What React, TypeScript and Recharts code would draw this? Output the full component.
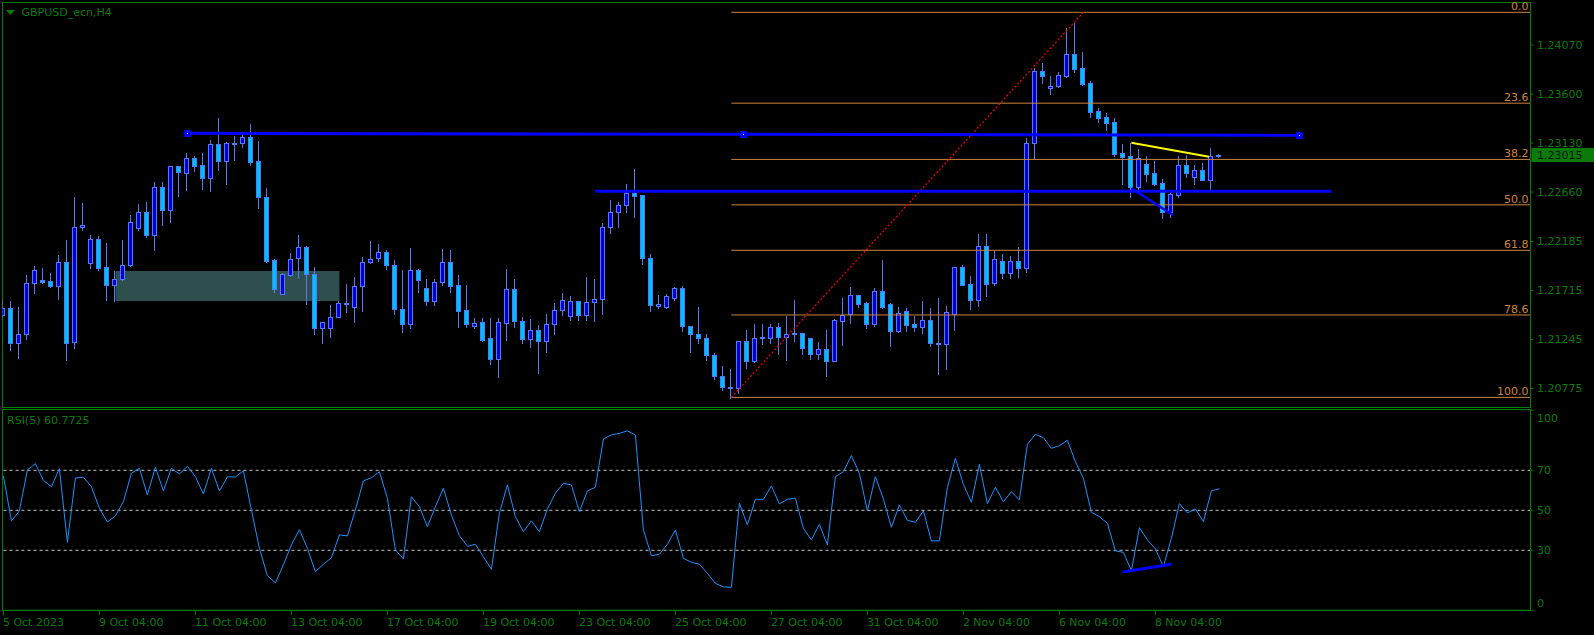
/*
 * GBPUSD H4 candlestick chart with fibonacci levels, trend lines and RSI(5) sub-window
 */

import {
  ComposedChart,
  Bar,
  Line,
  XAxis,
  YAxis,
  ReferenceLine,
  ReferenceArea,
  ReferenceDot
} from 'recharts';

const opens = [
  1.21481, 1.21552, 1.21212, 1.21302, 1.21788, 1.21814, 1.21804, 1.21760, 1.21984, 1.21222,
  1.22326, 1.21980, 1.22214, 1.21936, 1.21769, 1.21830, 1.21964, 1.22316, 1.22464, 1.22249,
  1.22704, 1.22489, 1.22905, 1.22838, 1.22982, 1.22915, 1.22796, 1.23116, 1.22960, 1.23126,
  1.23126, 1.23187, 1.22953, 1.22617, 1.22006, 1.21686, 1.21862, 1.22031, 1.22128, 1.21878,
  1.21360, 1.21360, 1.21465, 1.21591, 1.21560, 1.21760, 1.21993, 1.22031, 1.22089, 1.21964,
  1.21542, 1.21395, 1.21910, 1.21744, 1.21616, 1.21798, 1.21984, 1.21766, 1.21526, 1.21376,
  1.21411, 1.21257, 1.21059, 1.21404, 1.21734, 1.21427, 1.21251, 1.21340, 1.21232, 1.21398,
  1.21532, 1.21472, 1.21619, 1.21481, 1.21606, 1.21635, 1.22326, 1.22470, 1.22540, 1.22646,
  1.22627, 1.22031, 1.21568, 1.21560, 1.21644, 1.21744, 1.21379, 1.21302, 1.21264, 1.21100,
  1.20899, 1.20790, 1.20784, 1.21235, 1.21040, 1.21264, 1.21260, 1.21369, 1.21270, 1.21302,
  1.21312, 1.21264, 1.21104, 1.21158, 1.21040, 1.21424, 1.21488, 1.21676, 1.21593, 1.21395,
  1.21715, 1.21584, 1.21328, 1.21523, 1.21392, 1.21366, 1.21436, 1.21216, 1.21206, 1.21494,
  1.21936, 1.21776, 1.21628, 1.22144, 1.21788, 1.22003, 1.21884, 1.22003, 1.21932, 1.23126,
  1.23820, 1.23654, 1.23680, 1.23772, 1.23984, 1.23849, 1.23705, 1.23436, 1.23382, 1.23331,
  1.23036, 1.23004, 1.22710, 1.22924, 1.22838, 1.22742, 1.22470, 1.22633, 1.22918, 1.22806,
  1.22876, 1.22771, 1.23001
];

const highs = [
  1.21632, 1.21612, 1.21555, 1.21868, 1.21955, 1.21929, 1.21888, 1.22060, 1.22198, 1.22611,
  1.22553, 1.22246, 1.22236, 1.22169, 1.21900, 1.22198, 1.22438, 1.22544, 1.22563, 1.22755,
  1.22755, 1.22912, 1.22912, 1.23030, 1.23004, 1.23030, 1.23155, 1.23369, 1.23136, 1.23196,
  1.23222, 1.23312, 1.23148, 1.22697, 1.22016, 1.21888, 1.22073, 1.22246, 1.22140, 1.21939,
  1.21417, 1.21574, 1.21612, 1.21776, 1.21843, 1.22041, 1.22188, 1.22160, 1.22102, 1.22006,
  1.21910, 1.22121, 1.21926, 1.21830, 1.21830, 1.22112, 1.22102, 1.21862, 1.21766, 1.21456,
  1.21452, 1.21452, 1.21452, 1.21920, 1.21824, 1.21459, 1.21440, 1.21382, 1.21488, 1.21600,
  1.21696, 1.21660, 1.21619, 1.21843, 1.21824, 1.22361, 1.22582, 1.22566, 1.22736, 1.22880,
  1.22627, 1.22064, 1.21670, 1.21686, 1.21750, 1.21756, 1.21379, 1.21555, 1.21296, 1.21116,
  1.20988, 1.20960, 1.21235, 1.21334, 1.21392, 1.21392, 1.21392, 1.21408, 1.21468, 1.21622,
  1.21312, 1.21264, 1.21219, 1.21334, 1.21446, 1.21648, 1.21747, 1.21676, 1.21606, 1.21737,
  1.22006, 1.21593, 1.21555, 1.21545, 1.21475, 1.21612, 1.21545, 1.21641, 1.21564, 1.21936,
  1.21958, 1.21852, 1.22256, 1.22256, 1.22096, 1.22064, 1.22044, 1.22131, 1.23177, 1.23846,
  1.23897, 1.23772, 1.23811, 1.24233, 1.24284, 1.24006, 1.23724, 1.23468, 1.23414, 1.23366,
  1.23120, 1.23132, 1.23072, 1.23004, 1.22956, 1.22784, 1.22684, 1.23004, 1.23014, 1.22918,
  1.22937, 1.23081, 1.23020
];

const lows = [
  1.21462, 1.21142, 1.21068, 1.21248, 1.21692, 1.21792, 1.21750, 1.21635, 1.21052, 1.21164,
  1.22294, 1.21932, 1.21916, 1.21625, 1.21612, 1.21820, 1.21955, 1.22294, 1.22230, 1.22108,
  1.22345, 1.22374, 1.22624, 1.22681, 1.22864, 1.22691, 1.22672, 1.22873, 1.22739, 1.22969,
  1.23094, 1.22921, 1.22508, 1.21984, 1.21702, 1.21686, 1.21852, 1.21840, 1.21587, 1.21302,
  1.21216, 1.21270, 1.21465, 1.21510, 1.21414, 1.21520, 1.21980, 1.22000, 1.21923, 1.21491,
  1.21318, 1.21356, 1.21702, 1.21574, 1.21574, 1.21766, 1.21702, 1.21366, 1.21366, 1.21356,
  1.21232, 1.21008, 1.20886, 1.21238, 1.21366, 1.21212, 1.21174, 1.20924, 1.21126, 1.21296,
  1.21478, 1.21430, 1.21430, 1.21436, 1.21420, 1.21488, 1.22268, 1.22326, 1.22467, 1.22422,
  1.21971, 1.21520, 1.21548, 1.21548, 1.21625, 1.21328, 1.21126, 1.21212, 1.21046, 1.20864,
  1.20758, 1.20688, 1.20732, 1.20972, 1.21030, 1.21206, 1.21212, 1.21110, 1.21052, 1.21232,
  1.21104, 1.21062, 1.21062, 1.20896, 1.21040, 1.21190, 1.21404, 1.21558, 1.21356, 1.21376,
  1.21548, 1.21184, 1.21318, 1.21328, 1.21328, 1.21308, 1.21184, 1.20918, 1.20963, 1.21334,
  1.21766, 1.21539, 1.21568, 1.21664, 1.21766, 1.21836, 1.21836, 1.21846, 1.21894, 1.22972,
  1.23708, 1.23600, 1.23670, 1.23760, 1.23814, 1.23686, 1.23376, 1.23334, 1.23254, 1.23004,
  1.22739, 1.22614, 1.22678, 1.22768, 1.22723, 1.22412, 1.22422, 1.22614, 1.22806, 1.22739,
  1.22771, 1.22691, 1.22995
];

const closes = [
  1.21552, 1.21212, 1.21302, 1.21792, 1.21916, 1.21798, 1.21760, 1.21984, 1.21212, 1.22329,
  1.22348, 1.22214, 1.21932, 1.21769, 1.21830, 1.21964, 1.22368, 1.22464, 1.22249, 1.22704,
  1.22489, 1.22905, 1.22848, 1.22982, 1.22912, 1.22796, 1.23116, 1.22960, 1.23126, 1.23123,
  1.23187, 1.22950, 1.22614, 1.22003, 1.21731, 1.21872, 1.22022, 1.22128, 1.21878, 1.21360,
  1.21417, 1.21465, 1.21600, 1.21590, 1.21756, 1.21993, 1.22022, 1.22089, 1.21964, 1.21536,
  1.21395, 1.21910, 1.21820, 1.21616, 1.21801, 1.21993, 1.21760, 1.21520, 1.21395, 1.21408,
  1.21238, 1.21059, 1.21411, 1.21734, 1.21424, 1.21251, 1.21340, 1.21232, 1.21398, 1.21532,
  1.21628, 1.21619, 1.21481, 1.21609, 1.21638, 1.22329, 1.22473, 1.22540, 1.22646, 1.22624,
  1.22028, 1.21577, 1.21584, 1.21660, 1.21744, 1.21376, 1.21302, 1.21264, 1.21100, 1.20896,
  1.20790, 1.20784, 1.21235, 1.21040, 1.21264, 1.21270, 1.21369, 1.21270, 1.21302, 1.21308,
  1.21168, 1.21104, 1.21158, 1.21040, 1.21430, 1.21478, 1.21676, 1.21590, 1.21395, 1.21715,
  1.21560, 1.21328, 1.21504, 1.21382, 1.21366, 1.21436, 1.21212, 1.21212, 1.21513, 1.21936,
  1.21772, 1.21628, 1.22144, 1.21782, 1.22022, 1.21884, 1.22003, 1.21932, 1.23126, 1.23820,
  1.23772, 1.23680, 1.23779, 1.23984, 1.23840, 1.23699, 1.23430, 1.23372, 1.23324, 1.23027,
  1.22998, 1.22710, 1.22982, 1.22835, 1.22736, 1.22470, 1.22640, 1.22918, 1.22838, 1.22876,
  1.22771, 1.23001, 1.23015
];

const rsiValues = [
  67.2, 44.7, 49.7, 70.2, 73.3, 65.0, 61.8, 70.8, 34.0, 66.2,
  66.5, 61.8, 51.0, 44.2, 47.2, 54.3, 68.5, 71.0, 57.7, 71.5,
  59.7, 71.0, 68.2, 72.0, 66.8, 58.2, 71.0, 59.7, 66.7, 66.7,
  69.7, 50.2, 31.0, 17.3, 13.7, 22.7, 32.7, 40.3, 31.0, 19.3,
  23.0, 26.3, 37.7, 37.2, 50.2, 64.7, 66.3, 69.3, 56.0, 30.2,
  25.7, 56.8, 51.8, 41.8, 51.8, 61.0, 47.7, 37.3, 32.0, 33.0,
  26.8, 20.5, 48.5, 62.7, 46.8, 39.3, 44.7, 39.3, 50.7, 58.5,
  63.5, 62.7, 49.3, 59.7, 61.5, 85.7, 87.7, 88.5, 89.7, 87.7,
  40.2, 27.3, 28.0, 33.0, 40.2, 26.0, 24.0, 23.0, 18.5, 13.5,
  11.7, 11.5, 53.5, 42.7, 55.5, 55.5, 62.2, 53.2, 55.5, 56.0,
  41.0, 35.2, 43.0, 32.7, 66.8, 69.3, 77.3, 68.5, 49.7, 66.8,
  55.7, 41.5, 52.7, 45.0, 44.0, 49.7, 34.7, 34.7, 61.3, 76.0,
  63.0, 54.0, 73.0, 53.3, 61.5, 54.3, 59.3, 55.2, 83.0, 88.0,
  86.3, 81.0, 82.3, 85.0, 74.3, 66.0, 49.0, 46.8, 43.5, 29.7,
  29.0, 19.8, 41.3, 35.2, 30.7, 21.8, 36.0, 53.3, 48.7, 50.7,
  44.3, 59.7, 60.7725
];

const priceTicks = [1.20775, 1.21245, 1.21715, 1.22185, 1.2266, 1.2313, 1.236, 1.2407];
const rsiTicks = [0, 30, 50, 70, 100];
const rsiLevels = [70, 50, 30];
const timeTickBars = [0, 12, 24, 36, 48, 60, 72, 84, 96, 108, 120, 132, 144];
const timeTickLabels = [
  '5 Oct 2023', '9 Oct 04:00', '11 Oct 04:00', '13 Oct 04:00', '17 Oct 04:00',
  '19 Oct 04:00', '23 Oct 04:00', '25 Oct 04:00', '27 Oct 04:00', '31 Oct 04:00',
  '2 Nov 04:00', '6 Nov 04:00', '8 Nov 04:00'
];

// fibonacci retracement anchors: bar index and price
const fibLow = { bar: 91, price: 1.2069 };
const fibHigh = { bar: 135, price: 1.24384 };
const fibRatios = [0, 0.236, 0.382, 0.5, 0.618, 0.786, 1];
const fibLabels = ['0.0', '23.6', '38.2', '50.0', '61.8', '78.6', '100.0'];

// hand drawn objects (bar index, price)
const resistanceLine = [{ x: 23, y: 1.23223 }, { x: 162, y: 1.23204 }];
const resistanceHandles = [
  { x: 23, y: 1.23223 },
  { x: 92.5, y: 1.23213 },
  { x: 162, y: 1.23204 }
];
const supportLine = [{ x: 74, y: 1.22667 }, { x: 166, y: 1.22667 }];
const yellowLine = [{ x: 141, y: 1.23133 }, { x: 150.7, y: 1.22999 }];
const lowsLine = [{ x: 141, y: 1.22695 }, { x: 146.2, y: 1.22439 }];
const demandZone = { x1: 14, x2: 42, y1: 1.21614, y2: 1.21902 };
const rsiDivergence = [{ x: 139.9, y: 19.2 }, { x: 146, y: 23.0 }];

const FONT = '"DejaVu Sans", Verdana, sans-serif';
const FRAME = '#008000';
const TEXT = '#0b7a0b';
const FIB = '#CD853F';
const WICK = '#4f7bff';
const BULL = '#0000cd';
const BEAR = '#00bfff';
const OBJ_BLUE = '#0000ff';

const X_MIN = -0.1125;
const X_MAX = 190.89;

const bars = opens.map((open, i) => ({
  i,
  open,
  high: highs[i],
  low: lows[i],
  close: closes[i],
  rsi: rsiValues[i]
}));

const lastClose = closes[closes.length - 1];

const Candle = (props: any) => {
  const { x, y, width, height, payload } = props;
  if (!payload || x == null || y == null) return null;
  const { open, close, high, low } = payload;
  const cx = Math.floor(x + width / 2) + 0.5;
  const yHigh = Math.min(y, y + height);
  const h = Math.abs(height);
  const k = high === low ? 0 : h / (high - low);
  const yOpen = yHigh + (high - open) * k;
  const yClose = yHigh + (high - close) * k;
  const top = Math.round(Math.min(yOpen, yClose)) + 0.5;
  const bottom = Math.max(Math.round(Math.max(yOpen, yClose)) + 0.5, top + 1);
  const bull = close >= open;
  return (
    <g>
      <line x1={cx} x2={cx} y1={Math.round(yHigh)} y2={Math.round(yHigh + h) + 1} stroke={WICK} />
      <rect
        x={cx - 2}
        y={top}
        width={4}
        height={bottom - top}
        fill={bull ? BULL : BEAR}
        stroke={WICK}
      />
    </g>
  );
};

const FibLabel = (props: any) => {
  const vb = props.viewBox || {};
  const x = (vb.x ?? 0) + (vb.width ?? 0) - 2;
  const y = (vb.y ?? 0) - 2;
  return (
    <text x={x} y={y} textAnchor="end" fill={FIB} fontSize={11} fontFamily={FONT}>
      {props.text}
    </text>
  );
};

const PriceTag = (props: any) => {
  const vb = props.viewBox || {};
  const x = (vb.x ?? 0) + (vb.width ?? 0) + 1;
  const y = vb.y ?? 0;
  return (
    <g>
      <rect x={x} y={y - 7} width={63} height={14} fill="#0b7a0b" />
      <text x={x + 5.5} y={y + 4} fill="#001800" fontSize={11} fontFamily={FONT}>
        {props.text}
      </text>
    </g>
  );
};

const Handle = (props: any) => {
  const { cx, cy } = props;
  if (cx == null || cy == null) return null;
  const px = Math.round(cx);
  const py = Math.round(cy);
  return (
    <g>
      <rect x={px - 3} y={py - 3} width={7} height={7} fill={OBJ_BLUE} />
      <rect x={px} y={py} width={1} height={1} fill="#ffffff" />
    </g>
  );
};

const TimeTick = (props: any) => {
  const { x, y, payload } = props;
  const idx = timeTickBars.indexOf(payload.value);
  return (
    <text x={x - 0.5} y={y + 9} textAnchor="start" fill={TEXT} fontSize={11} fontFamily={FONT}>
      {idx >= 0 ? timeTickLabels[idx] : ''}
    </text>
  );
};

const RsiTick = (props: any) => {
  const { x, y, payload } = props;
  const shift = payload.value === 100 ? 8 : payload.value === 0 ? -7 : 0;
  return (
    <text x={x} y={y + shift} dy="0.355em" textAnchor="start" fill={TEXT} fontSize={11} fontFamily={FONT}>
      {payload.value}
    </text>
  );
};

const abs = (left: number, top: number, extra: any = {}) => ({
  position: 'absolute' as const,
  left,
  top,
  ...extra
});

export default function App() {
  return (
    <div
      style={{
        position: 'fixed',
        left: 0,
        top: 0,
        width: 1594,
        height: 635,
        background: '#000000',
        overflow: 'hidden',
        fontFamily: FONT
      }}
    >
      {/* pane frames */}
      <div style={abs(2, 2, { width: 1529, height: 406, border: `1px solid ${FRAME}`, boxSizing: 'border-box' })} />
      <div style={abs(2, 409, { width: 1529, height: 202, border: `1px solid ${FRAME}`, boxSizing: 'border-box' })} />

      <div style={abs(0, 0)}>
        <ComposedChart
          width={1594}
          height={410}
          data={bars}
          margin={{ top: 2.5, right: 0, bottom: 2.5, left: 2.5 }}
        >
          <XAxis type="number" dataKey="i" domain={[X_MIN, X_MAX]} allowDataOverflow hide />
          <YAxis
            orientation="right"
            width={63.5}
            domain={[1.20593, 1.24478]}
            allowDataOverflow
            ticks={priceTicks}
            interval={0}
            tickFormatter={(v: number) => v.toFixed(5)}
            axisLine={{ stroke: FRAME }}
            tickLine={{ stroke: FRAME }}
            tickSize={3}
            tickMargin={3.5}
            tick={{ fill: TEXT, fontSize: 11, fontFamily: FONT }}
          />
          <ReferenceArea
            x1={demandZone.x1}
            x2={demandZone.x2}
            y1={demandZone.y1}
            y2={demandZone.y2}
            fill="#2f4f4f"
            fillOpacity={1}
            stroke="none"
          />
          {fibRatios.map((r, n) => {
            const level = fibHigh.price - r * (fibHigh.price - fibLow.price);
            return (
              <ReferenceLine
                key={fibLabels[n]}
                segment={[{ x: fibLow.bar, y: level }, { x: X_MAX, y: level }]}
                stroke={FIB}
                strokeWidth={1}
                label={<FibLabel text={fibLabels[n]} />}
              />
            );
          })}
          <ReferenceLine
            segment={[{ x: fibLow.bar, y: fibLow.price }, { x: fibHigh.bar, y: fibHigh.price }]}
            stroke="#ff0000"
            strokeDasharray="2 2"
            strokeWidth={1.2}
          />
          <Bar
            dataKey={(d: any) => [d.low, d.high]}
            shape={Candle}
            barSize={5}
            isAnimationActive={false}
          />
          <ReferenceLine segment={resistanceLine} stroke={OBJ_BLUE} strokeWidth={3} />
          <ReferenceLine segment={supportLine} stroke={OBJ_BLUE} strokeWidth={3} />
          <ReferenceLine segment={yellowLine} stroke="#ffff00" strokeWidth={2} />
          <ReferenceLine segment={lowsLine} stroke={OBJ_BLUE} strokeWidth={2.5} />
          {resistanceHandles.map((h, n) => (
            <ReferenceDot key={n} x={h.x} y={h.y} r={3} shape={Handle} />
          ))}
          <ReferenceLine
            y={lastClose}
            stroke="none"
            label={<PriceTag text={lastClose.toFixed(5)} />}
          />
        </ComposedChart>
      </div>

      <div style={abs(0, 405)}>
        <ComposedChart
          width={1594}
          height={230}
          data={bars}
          margin={{ top: 5.3, right: 0, bottom: 0, left: 2.5 }}
        >
          <XAxis
            type="number"
            dataKey="i"
            domain={[X_MIN, X_MAX]}
            allowDataOverflow
            ticks={timeTickBars}
            interval={0}
            height={24.7}
            axisLine={{ stroke: FRAME }}
            tickLine={{ stroke: FRAME }}
            tickSize={5}
            tick={<TimeTick />}
          />
          <YAxis
            orientation="right"
            width={63.5}
            domain={[0, 100]}
            ticks={rsiTicks}
            interval={0}
            axisLine={{ stroke: FRAME }}
            tickLine={{ stroke: FRAME }}
            tickSize={3}
            tickMargin={3.5}
            tick={<RsiTick />}
          />
          {rsiLevels.map((lv) => (
            <ReferenceLine key={lv} y={lv} stroke="#c8c8c8" strokeDasharray="3 3" />
          ))}
          <Line
            type="linear"
            dataKey="rsi"
            stroke="#1e90ff"
            strokeWidth={1}
            dot={false}
            isAnimationActive={false}
          />
          <ReferenceLine segment={rsiDivergence} stroke={OBJ_BLUE} strokeWidth={3} />
        </ComposedChart>
      </div>

      {/* window captions */}
      <svg style={abs(6, 10)} width={10} height={6}>
        <polygon points="0,0 9,0 4.5,5" fill={TEXT} />
      </svg>
      <div style={abs(21.5, 5.5, { color: TEXT, fontSize: 11, lineHeight: '14px', whiteSpace: 'nowrap' })}>
        GBPUSD_ecn,H4
      </div>
      <div style={abs(7, 413.5, { color: TEXT, fontSize: 11, lineHeight: '14px', whiteSpace: 'nowrap' })}>
        RSI(5) 60.7725
      </div>
    </div>
  );
}
